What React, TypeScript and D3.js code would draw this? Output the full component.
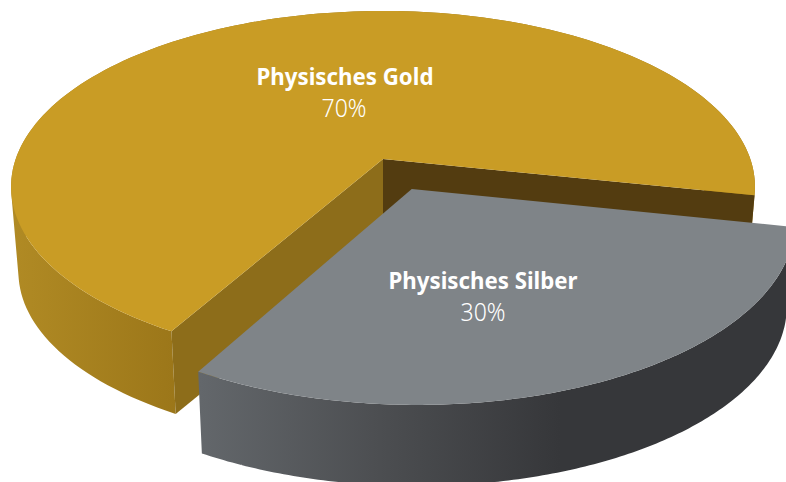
import * as d3 from 'd3';
import * as React from 'react';

const categories = ['Physisches Gold', 'Physisches Silber'];
const shares = [70, 30];
const shareLabels = ['70%', '30%'];

const width = 786;
const height = 482;

// the flat disk is tilted with a small perspective, so the pie is not a plain ellipse
const centerX = 383;
const centerY = 159;
const radiusX = 367.3;
const radiusY = 171.4;
const tilt = 0.158;
const depth = 86;
const bottomScale = 0.98;
const explode = 0.186;
const startDeg = 209.8;

const toRad = (deg: number) => (deg * Math.PI) / 180;

type Point = [number, number];

const project = (u: number, v: number, isBottom: boolean): Point => {
    const w = 1 - tilt * v;
    const s = isBottom ? bottomScale : 1;
    return [
        centerX + (s * radiusX * u) / w,
        centerY + (isBottom ? depth : 0) + (s * radiusY * v) / w,
    ];
};

const line = d3.line<Point>().x(d => d[0]).y(d => d[1]);

const pieAngles = d3.pie<number>()
    .sort(null)
    .startAngle(toRad(startDeg))
    .endAngle(toRad(startDeg + 360))(shares);

const topColors = ['#c99c25', '#7f8488'];
const cutColors = ['#8d6d1a', null];
const backColors = ['#533c10', null];

/**
 * One slice: outer wall, two cut walls and the top surface
 */
const Slice = (props: { index: number }) => {
    const { index } = props;
    const slice = pieAngles[index];
    const mid = (slice.startAngle + slice.endAngle) / 2;
    const offU = index === 1 ? explode * Math.sin(mid) : 0;
    const offV = index === 1 ? -explode * Math.cos(mid) : 0;

    const rim = (a: number, isBottom: boolean) =>
        project(offU + Math.sin(a), offV - Math.cos(a), isBottom);
    const hub = (isBottom: boolean) => project(offU, offV, isBottom);

    const angles = d3.range(0, 161).map(i =>
        slice.startAngle + ((slice.endAngle - slice.startAngle) * i) / 160);
    const topArc = angles.map(a => rim(a, false));

    // the wall is swept as small quads, all wound the same way, so the
    // silhouette at the far left stays filled
    const wallPath = angles.slice(1).map((a, i) => {
        const quad: Point[] = [rim(angles[i], false), rim(a, false), rim(a, true), rim(angles[i], true)];
        const oriented = (d3.polygonArea(quad) < 0 ? quad.reverse() : quad);
        return line(oriented) + 'Z';
    }).join('');
    const topPath = line([hub(false), ...topArc]) + 'Z';
    const cutPath = (a: number) =>
        line([hub(false), rim(a, false), rim(a, true), hub(true)]) + 'Z';

    return (
        <g>
            <path d={wallPath} fill={`url(#wall-${index})`} />
            {cutColors[index] && <path d={cutPath(slice.startAngle)} fill={cutColors[index]!} />}
            {backColors[index] && <path d={cutPath(slice.endAngle)} fill={backColors[index]!} />}
            <path d={topPath} fill={topColors[index]} />
        </g>
    );
};

const labelX = [345, 483];
const titleY = [85, 289];
const shareY = [117, 321];
const titleLengths = [177, 189];

export default function App() {
    return (
        <svg
            width={width}
            height={height}
            viewBox={`0 0 ${width} ${height}`}
            style={{ position: 'absolute', left: 0, top: 0, background: '#fff' }}
        >
            <defs>
                <linearGradient id="wall-0" gradientUnits="userSpaceOnUse" x1={15} x2={180} y1={0} y2={0}>
                    <stop offset="0" stopColor="#b08a24" />
                    <stop offset="1" stopColor="#9b7619" />
                </linearGradient>
                <linearGradient id="wall-1" gradientUnits="userSpaceOnUse" x1={200} x2={560} y1={0} y2={0}>
                    <stop offset="0" stopColor="#63676b" />
                    <stop offset="0.5" stopColor="#4c4e51" />
                    <stop offset="1" stopColor="#36373a" />
                </linearGradient>
            </defs>
            {categories.map((c, i) => <Slice key={c} index={i} />)}
            {categories.map((c, i) => (
                <g key={c} textAnchor="middle" fill="#fff">
                    <text
                        x={labelX[i]}
                        y={titleY[i]}
                        fontFamily="'Noto Sans', sans-serif"
                        fontWeight={700}
                        fontSize={24}
                        textLength={titleLengths[i]}
                        lengthAdjust="spacingAndGlyphs"
                    >
                        {c}
                    </text>
                    <text
                        x={labelX[i] - (i === 0 ? 1 : 0)}
                        y={shareY[i]}
                        fontFamily="'Noto Sans', sans-serif"
                        fontWeight={300}
                        fontSize={25}
                        textLength={45}
                        lengthAdjust="spacingAndGlyphs"
                    >
                        {shareLabels[i]}
                    </text>
                </g>
            ))}
        </svg>
    );
}
